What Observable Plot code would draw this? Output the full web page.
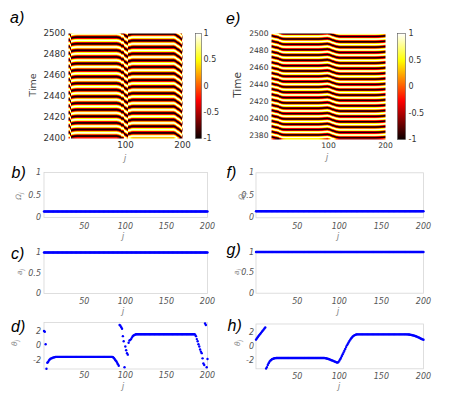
<!DOCTYPE html>
<html><head><meta charset="utf-8">
<script src="https://cdn.jsdelivr.net/npm/d3@7"></script>
<script src="https://cdn.jsdelivr.net/npm/@observablehq/plot@0.6"></script>
<style>
html,body{margin:0;padding:0;background:#fff;}
#fig{position:relative;width:449px;height:396px;overflow:hidden;background:#fff;}
#fig svg{position:absolute;left:0;top:0;}
.lab{position:absolute;white-space:nowrap;font-family:"DejaVu Sans",sans-serif;line-height:1;transform:translate(-50%,-50%);}
.rot{transform:translate(-50%,-50%) rotate(-90deg);}
.lab sub{font-size:75%;vertical-align:-0.25em;line-height:0;}
</style></head><body><div id="fig"></div>
<script>
// ---------------- data ----------------
const J = d3.range(1, 201); // oscillator index j = 1..200
const jTicksHeat = [100, 200];
const jTicks = [50, 100, 150, 200];
const timeTicksA = [2400, 2420, 2440, 2460, 2480, 2500];
const timeTicksE = [2380, 2400, 2420, 2440, 2460, 2480, 2500];
const timeDomainA = [2400, 2500];
const timeDomainE = [2375, 2500];
const cbarTicks = [-1, -0.5, 0, 0.5, 1];
const unitTicks = [0, 0.5, 1];
const phaseTicks = [-2, 0, 2];
const stripeFreqA = 1.0;   // stripe frequency
const stripeFreqE = 1.0;

// Omega_j (panels b, f)
const omegaA = [
0.135,0.135,0.135,0.135,0.135,0.135,0.135,0.135,0.135,0.135,0.135,0.135,0.135,0.135,0.135,0.135,0.135,0.135,0.135,0.135,
0.135,0.135,0.135,0.135,0.135,0.135,0.135,0.135,0.135,0.135,0.135,0.135,0.135,0.135,0.135,0.135,0.135,0.135,0.135,0.135,
0.135,0.135,0.135,0.135,0.135,0.135,0.135,0.135,0.135,0.135,0.135,0.135,0.135,0.135,0.135,0.135,0.135,0.135,0.135,0.135,
0.135,0.135,0.135,0.135,0.135,0.135,0.135,0.135,0.135,0.135,0.135,0.135,0.135,0.135,0.135,0.135,0.135,0.135,0.135,0.135,
0.135,0.135,0.135,0.135,0.135,0.135,0.135,0.135,0.135,0.135,0.135,0.135,0.135,0.135,0.135,0.135,0.135,0.135,0.135,0.135,
0.135,0.135,0.135,0.135,0.135,0.135,0.135,0.135,0.135,0.135,0.135,0.135,0.135,0.135,0.135,0.135,0.135,0.135,0.135,0.135,
0.135,0.135,0.135,0.135,0.135,0.135,0.135,0.135,0.135,0.135,0.135,0.135,0.135,0.135,0.135,0.135,0.135,0.135,0.135,0.135,
0.135,0.135,0.135,0.135,0.135,0.135,0.135,0.135,0.135,0.135,0.135,0.135,0.135,0.135,0.135,0.135,0.135,0.135,0.135,0.135,
0.135,0.135,0.135,0.135,0.135,0.135,0.135,0.135,0.135,0.135,0.135,0.135,0.135,0.135,0.135,0.135,0.135,0.135,0.135,0.135,
0.135,0.135,0.135,0.135,0.135,0.135,0.135,0.135,0.135,0.135,0.135,0.135,0.135,0.135,0.135,0.135,0.135,0.135,0.135,0.135];
const omegaE = [
0.145,0.145,0.145,0.145,0.145,0.145,0.145,0.145,0.145,0.145,0.145,0.145,0.145,0.145,0.145,0.145,0.145,0.145,0.145,0.145,
0.145,0.145,0.145,0.145,0.145,0.145,0.145,0.145,0.145,0.145,0.145,0.145,0.145,0.145,0.145,0.145,0.145,0.145,0.145,0.145,
0.145,0.145,0.145,0.145,0.145,0.145,0.145,0.145,0.145,0.145,0.145,0.145,0.145,0.145,0.145,0.145,0.145,0.145,0.145,0.145,
0.145,0.145,0.145,0.145,0.145,0.145,0.145,0.145,0.145,0.145,0.145,0.145,0.145,0.145,0.145,0.145,0.145,0.145,0.145,0.145,
0.145,0.145,0.145,0.145,0.145,0.145,0.145,0.145,0.145,0.145,0.145,0.145,0.145,0.145,0.145,0.145,0.145,0.145,0.145,0.145,
0.145,0.145,0.145,0.145,0.145,0.145,0.145,0.145,0.145,0.145,0.145,0.145,0.145,0.145,0.145,0.145,0.145,0.145,0.145,0.145,
0.145,0.145,0.145,0.145,0.145,0.145,0.145,0.145,0.145,0.145,0.145,0.145,0.145,0.145,0.145,0.145,0.145,0.145,0.145,0.145,
0.145,0.145,0.145,0.145,0.145,0.145,0.145,0.145,0.145,0.145,0.145,0.145,0.145,0.145,0.145,0.145,0.145,0.145,0.145,0.145,
0.145,0.145,0.145,0.145,0.145,0.145,0.145,0.145,0.145,0.145,0.145,0.145,0.145,0.145,0.145,0.145,0.145,0.145,0.145,0.145,
0.145,0.145,0.145,0.145,0.145,0.145,0.145,0.145,0.145,0.145,0.145,0.145,0.145,0.145,0.145,0.145,0.145,0.145,0.145,0.145];

// a_j (panels c, g)
const ampA = [
1,1,1,1,1,1,1,1,1,1,1,1,1,1,1,1,1,1,1,1,
1,1,1,1,1,1,1,1,1,1,1,1,1,1,1,1,1,1,1,1,
1,1,1,1,1,1,1,1,1,1,1,1,1,1,1,1,1,1,1,1,
1,1,1,1,1,1,1,1,1,1,1,1,1,1,1,1,1,1,1,1,
1,1,1,1,1,1,1,1,1,1,1,1,1,1,1,1,1,1,1,1,
1,1,1,1,1,1,1,1,1,1,1,1,1,1,1,1,1,1,1,1,
1,1,1,1,1,1,1,1,1,1,1,1,1,1,1,1,1,1,1,1,
1,1,1,1,1,1,1,1,1,1,1,1,1,1,1,1,1,1,1,1,
1,1,1,1,1,1,1,1,1,1,1,1,1,1,1,1,1,1,1,1,
1,1,1,1,1,1,1,1,1,1,1,1,1,1,1,1,1,1,1,1];
const ampE = [
1,1,1,1,1,1,1,1,1,1,1,1,1,1,1,1,1,1,1,1,
1,1,1,1,1,1,1,1,1,1,1,1,1,1,1,1,1,1,1,1,
1,1,1,1,1,1,1,1,1,1,1,1,1,1,1,1,1,1,1,1,
1,1,1,1,1,1,1,1,1,1,1,1,1,1,1,1,1,1,1,1,
1,1,1,1,1,1,1,1,1,1,1,1,1,1,1,1,1,1,1,1,
1,1,1,1,1,1,1,1,1,1,1,1,1,1,1,1,1,1,1,1,
1,1,1,1,1,1,1,1,1,1,1,1,1,1,1,1,1,1,1,1,
1,1,1,1,1,1,1,1,1,1,1,1,1,1,1,1,1,1,1,1,
1,1,1,1,1,1,1,1,1,1,1,1,1,1,1,1,1,1,1,1,
1,1,1,1,1,1,1,1,1,1,1,1,1,1,1,1,1,1,1,1];

// theta_j (panels d, h)
const thetaA = [
2.0,1.9,0.2,-3.1,-2.3,-2.2,-2.0,-1.85,-1.75,-1.7,-1.65,-1.6,-1.57,-1.55,-1.5,-1.5,-1.5,-1.5,-1.5,-1.5,
-1.5,-1.5,-1.5,-1.5,-1.5,-1.5,-1.5,-1.5,-1.5,-1.5,-1.5,-1.5,-1.5,-1.5,-1.5,-1.5,-1.5,-1.5,-1.5,-1.5,
-1.5,-1.5,-1.5,-1.5,-1.5,-1.5,-1.5,-1.5,-1.5,-1.5,-1.5,-1.5,-1.5,-1.5,-1.5,-1.5,-1.5,-1.5,-1.5,-1.5,
-1.5,-1.5,-1.5,-1.5,-1.5,-1.5,-1.5,-1.5,-1.5,-1.5,-1.5,-1.5,-1.5,-1.5,-1.5,-1.5,-1.5,-1.5,-1.5,-1.5,
-1.5,-1.5,-1.5,-1.5,-1.55,-1.65,-1.8,-1.95,-2.1,-2.3,-2.5,-2.7,2.8,2.7,2.5,2.3,1.3,0.6,-2.9,-0.1,
-0.6,-1.0,-1.2,0.4,0.7,0.8,0.9,1.1,1.3,1.4,1.45,1.5,1.55,1.55,1.55,1.55,1.55,1.55,1.55,1.55,
1.55,1.55,1.55,1.55,1.55,1.55,1.55,1.55,1.55,1.55,1.55,1.55,1.55,1.55,1.55,1.55,1.55,1.55,1.55,1.55,
1.55,1.55,1.55,1.55,1.55,1.55,1.55,1.55,1.55,1.55,1.55,1.55,1.55,1.55,1.55,1.55,1.55,1.55,1.55,1.55,
1.55,1.55,1.55,1.55,1.55,1.55,1.55,1.55,1.55,1.55,1.55,1.55,1.55,1.55,1.55,1.55,1.55,1.55,1.55,1.55,
1.55,1.55,1.55,1.55,1.5,1.3,0.9,0.6,0.2,-0.1,-0.5,-0.8,-1.0,-1.7,-2.4,-2.6,3.0,2.8,-2.9,-1.8];
const thetaE = [
0.95,1.1,1.3,1.45,1.6,1.75,1.9,2.05,2.2,2.35,2.5,2.65,-3.1,-2.9,-2.6,-2.35,-2.15,-2.0,-1.9,-1.8,
-1.75,-1.7,-1.67,-1.65,-1.62,-1.62,-1.62,-1.62,-1.62,-1.62,-1.62,-1.62,-1.62,-1.62,-1.62,-1.62,-1.62,-1.62,-1.62,-1.62,
-1.62,-1.62,-1.62,-1.62,-1.62,-1.62,-1.62,-1.62,-1.62,-1.62,-1.62,-1.62,-1.62,-1.62,-1.62,-1.62,-1.62,-1.62,-1.62,-1.62,
-1.62,-1.62,-1.62,-1.62,-1.62,-1.62,-1.62,-1.62,-1.62,-1.62,-1.62,-1.62,-1.62,-1.62,-1.62,-1.62,-1.62,-1.62,-1.62,-1.62,
-1.62,-1.62,-1.64,-1.67,-1.7,-1.73,-1.77,-1.8,-1.85,-1.9,-1.95,-2.0,-2.05,-2.1,-2.15,-2.2,-2.25,-2.25,-2.2,-2.0,
-1.8,-1.6,-1.35,-1.1,-0.85,-0.6,-0.35,-0.1,0.15,0.35,0.55,0.75,0.95,1.1,1.25,1.38,1.48,1.56,1.62,1.66,
1.69,1.69,1.69,1.69,1.69,1.69,1.69,1.69,1.69,1.69,1.69,1.69,1.69,1.69,1.69,1.69,1.69,1.69,1.69,1.69,
1.69,1.69,1.69,1.69,1.69,1.69,1.69,1.69,1.69,1.69,1.69,1.69,1.69,1.69,1.69,1.69,1.69,1.69,1.69,1.69,
1.69,1.69,1.69,1.69,1.69,1.69,1.69,1.69,1.69,1.69,1.69,1.69,1.69,1.69,1.69,1.69,1.69,1.69,1.69,1.69,
1.68,1.67,1.66,1.64,1.62,1.6,1.57,1.54,1.5,1.46,1.42,1.37,1.32,1.27,1.21,1.15,1.09,1.03,0.98,0.94];

// ---------------- drawing ----------------
const W = 449, H = 396;
const fig = document.getElementById("fig");
const hot = {type: "linear", domain: [-1, -0.27, 0.49, 1], range: ["#0b0000", "#ff0000", "#ffff00", "#ffffff"], interpolate: "rgb"};
const baseStyle = {background: "transparent", overflow: "visible", fontFamily: "'DejaVu Sans', sans-serif"};
const idx = (x) => Math.min(199, Math.max(0, Math.ceil(x) - 1));

function heat({left, right, top, bottom, tDomain, tTicks, theta, freq, sign, font, xPad}) {
  return Plot.plot({
    width: W, height: H,
    marginLeft: left, marginRight: W - right, marginTop: top, marginBottom: H - bottom,
    style: {...baseStyle, fontSize: font + "px", color: "#333"},
    x: {domain: [0, 200], ticks: jTicksHeat, tickSize: 0, tickPadding: xPad, tickFormat: String, label: null},
    y: {domain: tDomain, ticks: tTicks, tickSize: 0, tickPadding: 3, tickFormat: String, label: null},
    color: hot,
    marks: [
      Plot.raster({x1: 0, x2: 200, y1: tDomain[0], y2: tDomain[1],
        fill: (x, t) => Math.cos(freq * t + sign * theta[idx(x)]),
        imageRendering: "pixelated"})
    ]
  });
}

function cbar({left, right, top, bottom, pad}) {
  return Plot.plot({
    width: W, height: H,
    marginLeft: left, marginRight: W - right, marginTop: top, marginBottom: H - bottom,
    style: {...baseStyle, fontSize: "8px", color: "#333"},
    x: {domain: [0, 1], axis: null},
    y: {domain: [-1, 1], ticks: cbarTicks, axis: "right", tickSize: 0, tickPadding: pad, tickFormat: String, label: null},
    color: hot,
    marks: [
      Plot.raster({x1: 0, x2: 1, y1: -1, y2: 1, fill: (x, v) => v}),
      Plot.frame({stroke: "#555", strokeWidth: 0.6})
    ]
  });
}

function small({left, right, top, bottom, yDomain, yTicks, values, xPad, yPad}) {
  const data = values.map((v, i) => ({j: J[i], v}));
  return Plot.plot({
    width: W, height: H,
    marginLeft: left, marginRight: W - right, marginTop: top, marginBottom: H - bottom,
    style: {...baseStyle, fontSize: "8px", fontStyle: "italic", color: "#555"},
    x: {domain: [1, 200], ticks: jTicks, tickSize: 0, tickPadding: xPad, tickFormat: String, label: null},
    y: {domain: yDomain, ticks: yTicks, tickSize: 0, tickPadding: yPad, tickFormat: String, label: null},
    marks: [
      Plot.frame({stroke: "#d6d6d6", strokeWidth: 0.8}),
      Plot.dot(data, {x: "j", y: "v", r: 1.2, fill: "#0000ff"})
    ]
  });
}

const PI = Math.PI;
const plots = [
  heat({left: 68, right: 182, top: 33, bottom: 138, tDomain: timeDomainA, tTicks: timeTicksA, theta: thetaA, freq: stripeFreqA, sign: -1, font: 8.7, xPad: 3}),
  heat({left: 271, right: 385, top: 33, bottom: 139, tDomain: timeDomainE, tTicks: timeTicksE, theta: thetaE, freq: stripeFreqE, sign: 1, font: 7.6, xPad: 3}),
  cbar({left: 195, right: 201, top: 33, bottom: 138, pad: 2}),
  cbar({left: 397, right: 405, top: 33, bottom: 139, pad: 3}),
  small({left: 43.5, right: 207, top: 172, bottom: 217, yDomain: [0, 1], yTicks: unitTicks, values: omegaA, xPad: 6, yPad: 3}),
  small({left: 43.5, right: 207, top: 252, bottom: 293, yDomain: [0, 1], yTicks: unitTicks, values: ampA, xPad: 5, yPad: 3}),
  small({left: 43.5, right: 207, top: 322, bottom: 368.5, yDomain: [-PI, PI], yTicks: phaseTicks, values: thetaA, xPad: 3.5, yPad: 3}),
  small({left: 255.5, right: 423, top: 172.3, bottom: 217.3, yDomain: [0, 1], yTicks: unitTicks, values: omegaE, xPad: 5.5, yPad: 2}),
  small({left: 255.5, right: 423, top: 251.5, bottom: 292.7, yDomain: [0, 1], yTicks: unitTicks, values: ampE, xPad: 5.3, yPad: 2}),
  small({left: 255.5, right: 423, top: 323.5, bottom: 368.3, yDomain: [-PI, PI], yTicks: phaseTicks, values: thetaE, xPad: 4.4, yPad: 2})
];
plots.forEach(p => fig.appendChild(p));

// axis titles (HTML text)
function label(html, x, y, css, rot) {
  const d = document.createElement("div");
  d.className = "lab" + (rot ? " rot" : "");
  d.innerHTML = html;
  d.style.left = x + "px"; d.style.top = y + "px";
  Object.assign(d.style, css);
  fig.appendChild(d);
}
const jCss = {fontStyle: "italic", fontSize: "9px", color: "#888"};
const yCss = {fontStyle: "italic", fontSize: "7.5px", color: "#888"};
label("Time", 33, 85, {fontSize: "9.5px", color: "#444"}, true);
label("Time", 237, 85, {fontSize: "10.5px", color: "#444"}, true);
label("j", 125, 157.5, jCss);
label("j", 327, 156.5, jCss);
[[123, 236], [123, 311], [123, 386], [338, 236], [338, 311], [339, 386]].forEach(([x, y]) => label("j", x, y, jCss));
label("Ω<sub>j</sub>", 19, 196, yCss, true);
label("a<sub>j</sub>", 20, 272, yCss, true);
label("θ<sub>j</sub>", 15, 343, yCss, true);
label("Ω<sub>j</sub>", 242, 196, yCss, true);
label("a<sub>j</sub>", 237, 272, yCss, true);
label("θ<sub>j</sub>", 238, 343, yCss, true);

// panel letters
const ov = d3.create("svg").attr("width", W).attr("height", H).style("overflow", "visible");
[["a)", 10, 23], ["b)", 11.5, 178], ["c)", 11, 259], ["d)", 11, 331.5],
 ["e)", 226, 24], ["f)", 226.5, 178], ["g)", 226.5, 255], ["h)", 227.5, 330.5]].forEach(([t, x, y]) => {
  ov.append("text").attr("x", x).attr("y", y).text(t)
    .attr("font-family", "'Liberation Sans', Arial, sans-serif").attr("font-style", "italic")
    .attr("font-size", 16).attr("fill", "#000");
});
fig.appendChild(ov.node());
</script></body></html>
